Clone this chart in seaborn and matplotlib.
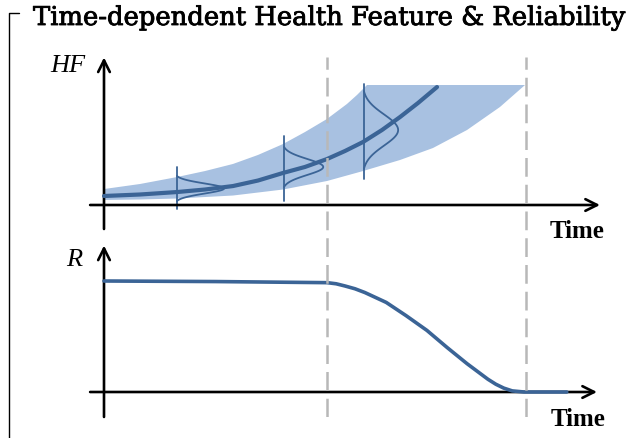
import numpy as np
import matplotlib
matplotlib.use("Agg")
import matplotlib.pyplot as plt
import matplotlib.patheffects as pe
from matplotlib.lines import Line2D
import seaborn as sns

# ---------------- data ----------------
# time axis: 0 at the HF/R axis, 10 at the arrow tip; dashed marks at t1, t2
t_marks = [4.5, 8.5]

# mean health-feature trajectory
mean_time = [0.0, 0.726, 1.472, 2.036, 2.601, 3.105, 3.609, 4.052, 4.496,
             4.859, 5.222, 5.605, 5.968, 6.331, 6.714]
mean_hf = [0.075, 0.0875, 0.108, 0.129, 0.158, 0.204, 0.267, 0.317, 0.383,
           0.45, 0.525, 0.625, 0.733, 0.85, 0.983]

# uncertainty band (upper and lower edges)
upper_time = [0.0, 0.726, 1.472, 2.036, 2.601, 3.105, 3.609, 4.052, 4.496,
              4.899, 5.101, 5.302, 8.488]
upper_hf = [0.133, 0.175, 0.233, 0.283, 0.342, 0.417, 0.508, 0.608, 0.717,
            0.842, 0.917, 1.0, 1.0]
lower_time = [0.0, 0.726, 1.472, 2.601, 3.609, 4.496, 5.222, 5.968, 6.633,
              7.319, 7.984, 8.488]
lower_hf = [0.042, 0.046, 0.054, 0.079, 0.129, 0.2, 0.283, 0.375, 0.475,
            0.625, 0.817, 1.0]

# distributions at three time instants
dist_time = [1.47, 3.63, 5.24]
dist_mean = [0.1375, 0.317, 0.625]
dist_std = [0.042, 0.067, 0.13]
dist_height = [0.95, 0.79, 0.69]
dist_line_low = [-0.033, 0.033, 0.217]
dist_line_high = [0.317, 0.575, 1.008]

# reliability curve
rel_time = [0.0, 2.25, 4.50, 4.68, 4.86, 5.06, 5.26, 5.69, 6.09, 6.51, 6.92,
            7.32, 7.74, 7.90, 8.06, 8.23, 8.47, 9.33]
rel_value = [1.0, 0.995, 0.985, 0.975, 0.955, 0.93, 0.896, 0.807, 0.688, 0.555,
             0.40, 0.255, 0.115, 0.07, 0.035, 0.01, 0.0, 0.0]

title_text = "Time-dependent Health Feature & Reliability"
x_label = "Time"
hf_label = "HF"
r_label = "R"

# ---------------- styling ----------------
W, H = 637, 439
DPI = 100
line_col = "#3b6496"
band_col = "#a8c1e1"
dash_col = "#b8b8b8"

sns.set_theme(style="white")
plt.rcParams["font.family"] = ["DejaVu Serif"]

fig = plt.figure(figsize=(W / DPI, H / DPI), dpi=DPI)


def place(xlim, ylim, X0, X1, x0, x1, Y0, Y1, y0, y1):
    """Axes whose data x0->pixel X0, x1->X1, y0->pixel row Y0, y1->Y1 (rows from top)."""
    sx = (X1 - X0) / (x1 - x0)
    left = X0 + (xlim[0] - x0) * sx
    width = (xlim[1] - xlim[0]) * sx
    sy = (Y0 - Y1) / (y1 - y0)
    top = Y0 - (ylim[1] - y0) * sy
    height = (ylim[1] - ylim[0]) * sy
    bottom = H - (top + height)
    ax = fig.add_axes([left / W, bottom / H, width / W, height / H])
    ax.set_xlim(*xlim)
    ax.set_ylim(*ylim)
    ax.set_axis_off()
    ax.patch.set_alpha(0)
    return ax


X0, X1 = 104, 600
axT = place((-0.4, 10.4), (-0.3, 1.35), X0, X1, 0, 10, 206, 86, 0, 1)
axB = place((-0.4, 10.4), (-0.3, 1.4), X0, X1, 0, 10, 393, 282, 0, 1)
axS = place((-0.4, 10.4), (0, 1), X0, X1, 0, 10, 418, 58, 0, 1)

arrow_kw = dict(arrowstyle="->,head_length=0.7,head_width=0.35", lw=1.9,
                color="black", shrinkA=0, shrinkB=0)

# dashed time marks
for tm in t_marks:
    axS.plot([tm, tm], [0, 1], color=dash_col, lw=1.8, dashes=(7.5, 3.2), zorder=0)

# ---- top panel ----
axT.fill(list(upper_time) + list(lower_time[::-1]),
         list(upper_hf) + list(lower_hf[::-1]), color=band_col, lw=0, zorder=1)
for tc, mu, sd, hgt, lo, hi in zip(dist_time, dist_mean, dist_std, dist_height,
                                   dist_line_low, dist_line_high):
    yy = np.linspace(mu - 2.5 * sd, mu + 2.5 * sd, 120)
    g = np.exp(-0.5 * ((yy - mu) / sd) ** 2)
    g0 = np.exp(-0.5 * 2.5 ** 2)
    xx = tc + hgt * (g - g0) / (1 - g0)
    axT.plot(xx, yy, color=line_col, lw=1.3, zorder=3)
    axT.plot([tc, tc], [lo, hi], color=line_col, lw=1.3, zorder=3)
sns.lineplot(x=mean_time, y=mean_hf, ax=axT, color=line_col, lw=3.0,
             sort=False, zorder=4)
axT.annotate("", xy=(10, 0), xytext=(-0.28, 0), arrowprops=arrow_kw, annotation_clip=False)
axT.annotate("", xy=(0, 1.23), xytext=(0, -0.2), arrowprops=arrow_kw, annotation_clip=False)
axT.text(-0.72, 1.165, hf_label, fontsize=19, style="italic", ha="center", va="center",
         family=["Liberation Serif"], color="black")
axT.text(9.53, -0.21, x_label, fontsize=18, fontweight="bold", ha="center", va="center",
         family=["Liberation Serif"], color="black")

# ---- bottom panel ----
sns.lineplot(x=rel_time, y=rel_value, ax=axB, color=line_col, lw=2.6, sort=False, zorder=4)
axB.annotate("", xy=(9.94, 0), xytext=(-0.28, 0), arrowprops=arrow_kw, annotation_clip=False)
axB.annotate("", xy=(0, 1.32), xytext=(0, -0.225), arrowprops=arrow_kw, annotation_clip=False)
axB.text(-0.6, 1.2, r_label, fontsize=19, style="italic", ha="center", va="center",
         family=["Liberation Serif"], color="black")
axB.text(9.55, -0.236, x_label, fontsize=18, fontweight="bold", ha="center", va="center",
         family=["Liberation Serif"], color="black")

# ---- frame bracket and title ----
fig.add_artist(Line2D([9 / W, 9 / W, 19 / W], [0, 1 - 14 / H, 1 - 14 / H],
                      color="black", lw=1.0))
fig.text(33 / W, 1 - 26 / H, title_text, fontsize=18.6, ha="left", va="baseline",
         family=["DejaVu Serif"], color="black",
         path_effects=[pe.withStroke(linewidth=0.6, foreground="black")])

fig.savefig("out.png", dpi=DPI)
